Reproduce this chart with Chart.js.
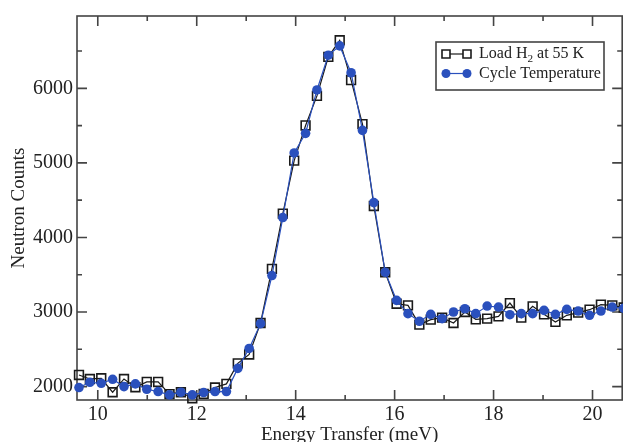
<!DOCTYPE html>
<html>
<head>
<meta charset="utf-8">
<script src="https://cdn.jsdelivr.net/npm/chart.js@4/dist/chart.umd.min.js"></script>
<style>
html, body { margin: 0; padding: 0; background: #fff; overflow: hidden; }
#wrap { width: 630px; height: 442px; }
</style>
</head>
<body>
<div id="wrap"><canvas id="grafico" width="630" height="442"></canvas></div>
<script>
// energy transfer (meV)
const energia = [9.62, 9.84, 10.07, 10.30, 10.53, 10.76, 10.99, 11.22, 11.45, 11.68,
  11.91, 12.14, 12.37, 12.60, 12.83, 13.06, 13.29, 13.52, 13.74, 13.97,
  14.20, 14.43, 14.66, 14.89, 15.12, 15.35, 15.58, 15.81, 16.04, 16.27,
  16.50, 16.73, 16.96, 17.19, 17.42, 17.64, 17.87, 18.10, 18.33, 18.56,
  18.79, 19.02, 19.25, 19.48, 19.71, 19.94, 20.17, 20.40, 20.63];

const cargaH2 = [2156, 2102, 2111, 1924, 2102, 1991, 2062, 2062, 1898, 1924,
  1844, 1902, 1987, 2036, 2311, 2431, 2853, 3578, 4320, 5031,
  5502, 5898, 6422, 6644, 6111, 5520, 4422, 3533, 3111, 3089,
  2831, 2898, 2924, 2853, 3000, 2902, 2911, 2942, 3120, 2924,
  3076, 2969, 2867, 2956, 2991, 3031, 3098, 3089, 3060];

const cicloTemp = [1987, 2058, 2044, 2098, 2000, 2036, 1964, 1933, 1889, 1924,
  1889, 1920, 1933, 1933, 2244, 2511, 2844, 3489, 4267, 5133,
  5396, 5978, 6444, 6569, 6209, 5436, 4467, 3533, 3156, 2978,
  2876, 2969, 2911, 3000, 3044, 2978, 3080, 3067, 2964, 2978,
  2978, 3022, 2969, 3036, 3013, 2956, 3013, 3067, 3050];

const ticksX = [10, 12, 14, 16, 18, 20];
const menoresX = [11, 13, 15, 17, 19];
const ticksY = [2000, 3000, 4000, 5000, 6000];
const menoresY = [2500, 3500, 4500, 5500, 6500];
const legendas = ['Load H_2 at 55 K', 'Cycle Temperature'];

const AZUL = '#2a50bd';
const PRETO = '#1a1a1a';
const FONTE = "'Liberation Serif', 'Times New Roman', serif";

// moldura com ticks para dentro (estilo xmgrace)
const molduraPlugin = {
  id: 'moldura',
  beforeDatasetsDraw(chart) {
    const { ctx, chartArea: a, scales: { x, y } } = chart;
    ctx.save();
    ctx.strokeStyle = '#444';
    ctx.lineWidth = 1.6;
    ctx.strokeRect(a.left, a.top, a.right - a.left, a.bottom - a.top);
    ctx.beginPath();
    const marcaX = (v, len) => {
      const px = x.getPixelForValue(v);
      ctx.moveTo(px, a.bottom); ctx.lineTo(px, a.bottom - len);
      ctx.moveTo(px, a.top); ctx.lineTo(px, a.top + len);
    };
    const marcaY = (v, len) => {
      const py = y.getPixelForValue(v);
      ctx.moveTo(a.left, py); ctx.lineTo(a.left + len, py);
      ctx.moveTo(a.right, py); ctx.lineTo(a.right - len, py);
    };
    ticksX.forEach(v => marcaX(v, 10));
    menoresX.forEach(v => marcaX(v, 5));
    ticksY.forEach(v => marcaY(v, 10));
    menoresY.forEach(v => marcaY(v, 5));
    ctx.stroke();
    ctx.restore();
  }
};

// texto com subscrito: "H_2" -> H com 2 abaixo
function textoSub(ctx, txt, x, y, size) {
  const partes = txt.split(/_(\d)/);
  partes.forEach((p, i) => {
    if (!p) return;
    const sub = i % 2 === 1;
    ctx.font = `${sub ? size * 0.7 : size}px ${FONTE}`;
    ctx.fillText(p, x, sub ? y + size * 0.3 : y);
    x += ctx.measureText(p).width;
  });
}

const legendaPlugin = {
  id: 'legendaBox',
  afterDraw(chart) {
    const { ctx } = chart;
    const box = { x: 436, y: 42, w: 168, h: 48 };
    ctx.save();
    ctx.fillStyle = '#fff';
    ctx.fillRect(box.x, box.y, box.w, box.h);
    ctx.strokeStyle = '#444';
    ctx.lineWidth = 1.6;
    ctx.strokeRect(box.x, box.y, box.w, box.h);

    chart.data.datasets.forEach((ds, i) => {
      const cy = box.y + 12 + i * 19.5;
      const x1 = box.x + 10, x2 = box.x + 31;
      ctx.strokeStyle = ds.borderColor;
      ctx.lineWidth = 1.2;
      ctx.beginPath(); ctx.moveTo(x1, cy); ctx.lineTo(x2, cy); ctx.stroke();
      [x1, x2].forEach(px => {
        ctx.beginPath();
        if (ds.pointStyle === 'rect') {
          ctx.fillStyle = '#fff';
          ctx.lineWidth = 1.6;
          ctx.strokeStyle = PRETO;
          ctx.rect(px - 4, cy - 4, 8, 8);
          ctx.fill(); ctx.stroke();
        } else {
          ctx.fillStyle = AZUL;
          ctx.arc(px, cy, 4.5, 0, Math.PI * 2);
          ctx.fill();
        }
      });
      ctx.fillStyle = '#222';
      ctx.textBaseline = 'middle';
      ctx.textAlign = 'left';
      textoSub(ctx, legendas[i], box.x + 43, cy, 16);
    });
    ctx.restore();
  }
};

const pontos = (serie) => energia.map((x, i) => ({ x, y: serie[i] }));

new Chart(document.getElementById('grafico'), {
  type: 'line',
  data: {
    datasets: [
      {
        label: legendas[0], data: pontos(cargaH2), order: 1,
        borderColor: PRETO, borderWidth: 1.2,
        pointStyle: 'rect', pointRadius: 6.2, pointBorderWidth: 1.6,
        pointBorderColor: PRETO, pointBackgroundColor: 'rgba(255,255,255,0)',
        tension: 0, clip: false
      },
      {
        label: legendas[1], data: pontos(cicloTemp), order: 0,
        borderColor: AZUL, borderWidth: 1.2,
        pointStyle: 'circle', pointRadius: 4.8, pointBorderWidth: 0,
        pointBackgroundColor: AZUL, pointBorderColor: AZUL,
        tension: 0, clip: false
      }
    ]
  },
  options: {
    responsive: false,
    animation: false,
    layout: { padding: { top: 14, right: 5, left: 0, bottom: 0 } },
    plugins: { legend: { display: false }, tooltip: { enabled: false } },
    scales: {
      x: {
        type: 'linear', min: 9.58, max: 20.6,
        grid: { display: false, drawTicks: false }, border: { display: false },
        afterBuildTicks: s => { s.ticks = ticksX.map(v => ({ value: v })); },
        afterFit: s => { s.height = 42; },
        ticks: { padding: 3, color: '#222', font: { family: FONTE, size: 20 }, callback: v => String(v) },
        title: {
          display: true, text: 'Energy Transfer (meV)', color: '#222',
          padding: 0, font: { family: FONTE, size: 19, lineHeight: 0.75 }
        }
      },
      y: {
        min: 1820, max: 6970,
        grid: { display: false, drawTicks: false }, border: { display: false },
        afterBuildTicks: s => { s.ticks = ticksY.map(v => ({ value: v })); },
        afterFit: s => { s.width = 77; },
        ticks: { padding: 4, color: '#222', font: { family: FONTE, size: 20 }, callback: v => String(v) },
        title: {
          display: true, text: 'Neutron Counts', color: '#222',
          padding: { top: 8, bottom: 0 }, font: { family: FONTE, size: 19 }
        }
      }
    }
  },
  plugins: [molduraPlugin, legendaPlugin]
});
</script>
</body>
</html>
